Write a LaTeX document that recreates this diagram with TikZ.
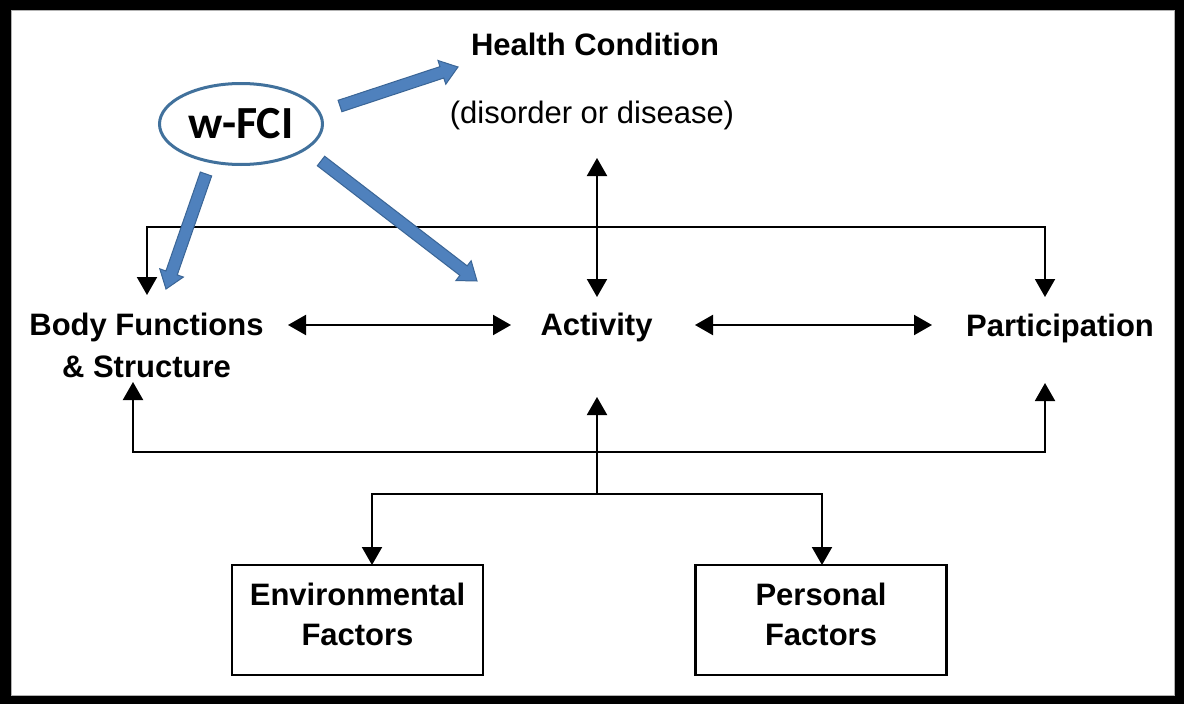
\documentclass[tikz,border=0pt]{standalone}
\usepackage{fontspec}
\setmainfont{Liberation Sans}
\newfontfamily\wfcifont{Carlito}
\usetikzlibrary{arrows.meta,calc,shapes.geometric}
\definecolor{wblue}{HTML}{4F81BD}
\definecolor{wedge}{HTML}{3A6596}
\definecolor{wring}{HTML}{41719C}
\tikzset{
  lbl/.style={font=\fontsize{31}{42}\selectfont\bfseries, inner sep=0pt, anchor=base, align=center},
  sublbl/.style={font=\fontsize{31}{42}\selectfont, inner sep=0pt, anchor=base},
  factorbox/.style={draw, line width=2.4pt, minimum width=251pt, minimum height=110pt, inner sep=0pt, align=center, font=\fontsize{31}{40}\selectfont\bfseries},
  link/.style={line width=2pt, -{Triangle[width=20pt,length=18pt]}},
  bilink/.style={line width=2pt, {Triangle[width=20pt,length=18pt]}-{Triangle[width=20pt,length=18pt]}},
  blockarrow/.style={fill=wblue, draw=wedge, line width=1pt, line join=miter},
  wring/.style={draw=wring, line width=3pt, ellipse, minimum width=163pt, minimum height=81pt, inner sep=0pt, font=\wfcifont\bfseries\fontsize{46}{50}\selectfont}
}
\newcommand{\wblock}[2]{%
  \coordinate (wb-c) at ($(#2)!17pt!(#1)$);
  \filldraw[blockarrow] ($(#1)!6pt!90:(#2)$) -- ($(wb-c)!6pt!90:(#2)$) -- ($(wb-c)!12.5pt!90:(#2)$) -- (#2) -- ($(wb-c)!12.5pt!-90:(#2)$) -- ($(wb-c)!6pt!-90:(#2)$) -- ($(#1)!6pt!-90:(#2)$) -- cycle;}
\newcommand{\lowstrut}{\rule[-12pt]{0pt}{0pt}}
\begin{document}
\begin{tikzpicture}[x=1pt,y=-1pt]
  % frame
  \fill[black] (0,0) rectangle (1184,704);
  \filldraw[fill=white, draw=gray!60, line width=1pt] (11,10) rectangle (1174,695);
  \useasboundingbox (0,0) rectangle (1184,704);

  % texts
  \node[lbl] (hc) at (595,55) {Health Condition};
  \node[sublbl] (hcd) at (592,123) {(disorder or disease)};
  \node[lbl] (body) at (146.5,377) {Body Functions\\\& Structure};
  \node[lbl] (act) at (596.5,335) {Activity};
  \node[lbl] (part) at (1060,336) {Participation};
  \node[factorbox] (env) at (357.5,620) {Environmental\\Factors\lowstrut};
  \node[factorbox] (pers) at (821,620) {Personal\\Factors\lowstrut};
  \node[wring] (wfci) at (241,124) {w-FCI};

  % connector end points
  \coordinate (bodyTop) at (147,295);
  \coordinate (partTop) at (1045,297);
  \coordinate (topBar) at (0,227);
  \coordinate (bodyBot) at (133,382);
  \coordinate (partBot) at (1045,383);
  \coordinate (botBar) at (0,452);
  \coordinate (hcdBot) at (597,158);
  \coordinate (actTop) at (597,297);
  \coordinate (actBot) at (597,397);
  \coordinate (split) at (597,494);
  \coordinate (bodyRight) at (288,325);
  \coordinate (actLeft) at (511,325);
  \coordinate (actRight) at (695,325);
  \coordinate (partLeft) at (932,325);
  \coordinate (envTop) at (372,565);
  \coordinate (persTop) at (822,565);

  % black connectors
  \draw[bilink] (bodyTop) -- (bodyTop |- topBar) -- (partTop |- topBar) -- (partTop);
  \draw[bilink] (bodyBot) -- (bodyBot |- botBar) -- (partBot |- botBar) -- (partBot);
  \draw[bilink] (hcdBot) -- (actTop);
  \draw[bilink] (bodyRight) -- (actLeft);
  \draw[bilink] (actRight) -- (partLeft);
  \draw[link] (split) -- (actBot);
  \draw[link] (split) -| (envTop);
  \draw[link] (split) -| (persTop);

  % blue block arrows from w-FCI
  \coordinate (w1s) at (340,106);
  \coordinate (w1e) at (458,67);
  \coordinate (w2s) at (206,174);
  \coordinate (w2e) at (166,289);
  \coordinate (w3s) at (321,161);
  \coordinate (w3e) at (477,281);
  \wblock{w1s}{w1e}
  \wblock{w2s}{w2e}
  \wblock{w3s}{w3e}
\end{tikzpicture}
\end{document}
